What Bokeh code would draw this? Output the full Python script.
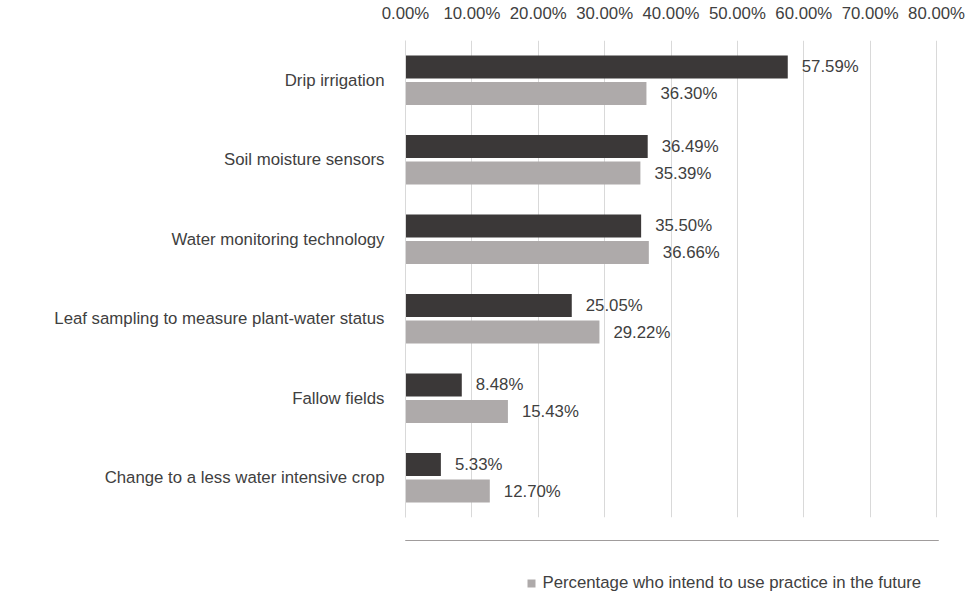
from bokeh.plotting import figure
from bokeh.layouts import column
from bokeh.models import (ColumnDataSource, FactorRange, PrintfTickFormatter, Legend, LegendItem,
                          FixedTicker)
from bokeh.transform import dodge
from bokeh.core.properties import value
from bokeh.embed import file_html
from bokeh.resources import INLINE

categories = ["Drip irrigation", "Soil moisture sensors", "Water monitoring technology",
              "Leaf sampling to measure plant-water status", "Fallow fields",
              "Change to a less water intensive crop"]
current_use = [57.59, 36.49, 35.50, 25.05, 8.48, 5.33]
future_use = [36.30, 35.39, 36.66, 29.22, 15.43, 12.70]
x_ticks = [0, 10, 20, 30, 40, 50, 60, 70, 80]
series_names = ["Percentage who currently use practice", "Percentage who intend to use practice in the future"]

FONT = "Liberation Sans"
FS = "16.8px"
TXT = "#404040"
DARK = "#3b3838"
LIGHT = "#aeaaaa"
GRID = "#d9d9d9"

src = ColumnDataSource(dict(
    cat=categories, cur=current_use, fut=future_use,
    cur_lbl=[f"{v:.2f}%" for v in current_use],
    fut_lbl=[f"{v:.2f}%" for v in future_use],
))

p = figure(width=966, height=540, output_backend="svg", toolbar_location=None,
           y_range=FactorRange(factors=list(reversed(categories))),
           x_range=(0, 80.3), x_axis_location="above",
           min_border_left=405, min_border_right=28, min_border_top=40, min_border_bottom=23)

p.outline_line_color = None
p.background_fill_color = "white"
p.border_fill_color = "white"

off = 0.167
hb = 0.29
r1 = p.hbar(y=dodge("cat", off, range=p.y_range), left=0, right="cur", height=hb, source=src,
            fill_color=DARK, line_color=None)
r2 = p.hbar(y=dodge("cat", -off, range=p.y_range), left=0, right="fut", height=hb, source=src,
            fill_color=LIGHT, line_color=None)

p.text(x="cur", y=dodge("cat", off, range=p.y_range), text="cur_lbl", source=src,
       x_offset=14, text_baseline="middle", text_align="left",
       text_font=value(FONT), text_font_size=FS, text_color=TXT)
p.text(x="fut", y=dodge("cat", -off, range=p.y_range), text="fut_lbl", source=src,
       x_offset=14, text_baseline="middle", text_align="left",
       text_font=value(FONT), text_font_size=FS, text_color=TXT)

xa = p.xaxis[0]
xa.ticker = FixedTicker(ticks=x_ticks)
xa.formatter = PrintfTickFormatter(format="%.2f%%")
xa.axis_line_color = None
xa.major_tick_line_color = None
xa.minor_tick_line_color = None
xa.major_label_text_font = FONT
xa.major_label_text_font_size = FS
xa.major_label_text_color = TXT
xa.major_label_standoff = 12

ya = p.yaxis[0]
ya.axis_line_color = GRID
ya.major_tick_line_color = None
ya.minor_tick_line_color = None
ya.major_label_text_font = FONT
ya.major_label_text_font_size = FS
ya.major_label_text_color = TXT
ya.major_label_standoff = 15

p.xgrid.grid_line_color = GRID
p.xgrid.ticker = FixedTicker(ticks=x_ticks)
p.ygrid.grid_line_color = None
p.y_range.range_padding = 0
p.y_range.group_padding = 0

# legend strip below the chart (its frame is aligned with the chart's frame)
lg = figure(width=966, height=69, output_backend="svg", toolbar_location=None,
            x_axis_type=None, y_axis_type=None, x_range=(0, 1), y_range=(0, 1),
            min_border=0)
lg.outline_line_color = None
lg.grid.visible = False
# swatch renderers for the legend (their bars fall outside this strip's ranges)
lr1 = lg.hbar(y="cur", left=0, right="cur", height=0.1, source=src, fill_color=DARK, line_color=None)
lr2 = lg.hbar(y="fut", left=0, right="fut", height=0.1, source=src, fill_color=LIGHT, line_color=None)

legend = Legend(items=[LegendItem(label=series_names[0], renderers=[lr1]),
                       LegendItem(label=series_names[1], renderers=[lr2])],
                orientation="horizontal", location=(-333, 16),
                label_text_font=FONT, label_text_font_size=FS, label_text_color=TXT,
                glyph_width=10, glyph_height=10, spacing=153, label_standoff=6,
                padding=0, margin=0,
                border_line_color=None, background_fill_alpha=0)
lg.add_layout(legend, "center")

layout = column(p, lg, spacing=0)
open("out.html", "w").write(file_html(layout, INLINE))
